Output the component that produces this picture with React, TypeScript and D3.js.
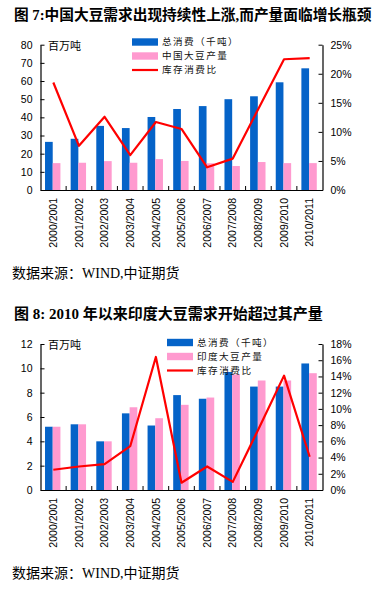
import { useEffect, useRef } from "react";
import * as d3 from "d3";

const seasons = [
  "2000/2001", "2001/2002", "2002/2003", "2003/2004", "2004/2005", "2005/2006",
  "2006/2007", "2007/2008", "2008/2009", "2009/2010", "2010/2011",
];

// 图7 China
const chinaTotal = [26.5, 28.2, 35.3, 34.1, 40.2, 44.6, 46.2, 50.0, 51.6, 59.3, 67.0];
const chinaProd = [14.8, 15.0, 15.9, 15.0, 17.0, 16.0, 14.7, 13.2, 15.4, 14.8, 14.8];
const chinaRatio = [18.5, 7.6, 12.6, 6.0, 11.7, 10.5, 3.9, 5.4, 14.0, 22.5, 22.7];
const chinaLeftTicks = [0, 10, 20, 30, 40, 50, 60, 70, 80];
const chinaRightTicks = [0, 5, 10, 15, 20, 25];

// 图8 India
const indiaTotal = [5.2, 5.4, 4.0, 6.3, 5.3, 7.8, 7.5, 9.7, 8.5, 8.5, 10.4];
const indiaProd = [5.2, 5.4, 4.0, 6.8, 5.9, 7.0, 7.6, 9.5, 9.0, 9.0, 9.6];
const indiaRatio = [2.5, 2.9, 3.2, 5.4, 16.4, 0.9, 2.9, 1.0, 7.5, 14.1, 4.1];
const indiaLeftTicks = [0, 2, 4, 6, 8, 10, 12];
const indiaRightTicks = [0, 2, 4, 6, 8, 10, 12, 14, 16, 18];

const BLUE = "#0563C8";
const PINK = "#FF9ACF";
const RED = "#FF0000";
const SANS = "'Liberation Sans', Arial, sans-serif";
const CJK = "'Noto Sans CJK SC', sans-serif";
const SERIF_CJK = "'Liberation Serif', 'Noto Sans CJK SC', serif";

type ChartCfg = {
  top: number; // y of axis top
  bottom: number; // y of zero
  total: number[];
  prod: number[];
  ratio: number[];
  leftTicks: number[];
  rightTicks: number[];
  names: string[];
  legendX: number;
  legendY: number;
};

function drawChart(svg: d3.Selection<SVGSVGElement, unknown, null, undefined>, c: ChartCfg) {
  const left = 40.5;
  const right = 322.5;
  const g = svg.append("g");

  const x = d3.scaleBand<string>().domain(seasons).range([left, right]).padding(0);
  const sub = d3.scaleBand<string>().domain(["t", "p"]).range([-7.7, 7.7]);
  const yl = d3.scaleLinear().domain([0, d3.max(c.leftTicks)!]).range([c.bottom, c.top]);
  const yr = d3.scaleLinear().domain([0, d3.max(c.rightTicks)!]).range([c.bottom, c.top]);

  // bars
  seasons.forEach((s, i) => {
    const cx = x(s)! + x.bandwidth() / 2 - 0.6;
    g.append("rect")
      .attr("x", cx + sub("t")!)
      .attr("y", yl(c.total[i]))
      .attr("width", sub.bandwidth())
      .attr("height", yl(0) - yl(c.total[i]))
      .attr("fill", BLUE);
    g.append("rect")
      .attr("x", cx + sub("p")!)
      .attr("y", yl(c.prod[i]))
      .attr("width", sub.bandwidth())
      .attr("height", yl(0) - yl(c.prod[i]))
      .attr("fill", PINK);
  });

  // ratio line
  const line = d3.line<number>()
    .x((_d, i) => x(seasons[i])! + x.bandwidth() / 2)
    .y(d => yr(d));
  g.append("path")
    .attr("d", line(c.ratio))
    .attr("fill", "none")
    .attr("stroke", RED)
    .attr("stroke-width", 2.2)
    .attr("stroke-linejoin", "round");

  // left axis
  const la = g.append("g").attr("transform", `translate(${left},0)`)
    .call(d3.axisLeft(yl).tickValues(c.leftTicks).tickSizeInner(-4).tickSizeOuter(0).tickPadding(8));
  // right axis
  const ra = g.append("g").attr("transform", `translate(${right},0)`)
    .call(d3.axisRight(yr).tickValues(c.rightTicks).tickFormat(d => `${d}%`)
      .tickSizeInner(-4).tickSizeOuter(0).tickPadding(8));
  // bottom axis
  const ba = g.append("g").attr("transform", `translate(0,${c.bottom})`)
    .call(d3.axisBottom(x).tickSize(0).tickPadding(0));
  [la, ra, ba].forEach(a => {
    a.select(".domain").attr("stroke", "#000").attr("stroke-width", 1.2);
    a.selectAll(".tick line").attr("stroke", "#000");
    a.selectAll("text").attr("font-family", SANS).attr("font-size", 10.5).attr("fill", "#000");
  });
  ba.selectAll(".tick text")
    .attr("transform", "rotate(-90)")
    .attr("text-anchor", "end")
    .attr("dy", "0.35em")
    .attr("x", -8)
    .attr("y", 0);
  // category boundary ticks
  const bounds = seasons.slice(1).map(s => x(s)!);
  g.selectAll(null).data(bounds).enter().append("line")
    .attr("x1", d => d).attr("x2", d => d)
    .attr("y1", c.bottom).attr("y2", c.bottom - 4)
    .attr("stroke", "#000");

  // unit
  g.append("text").attr("x", 48).attr("y", c.top + 5)
    .attr("font-family", CJK).attr("font-size", 11).attr("fill", "#000").text("百万吨");

  // legend
  const items = [
    { name: c.names[0], kind: "rect", color: BLUE },
    { name: c.names[1], kind: "rect", color: PINK },
    { name: c.names[2], kind: "line", color: RED },
  ];
  items.forEach((it, i) => {
    const yy = c.legendY + i * 14;
    if (it.kind === "rect") {
      g.append("rect").attr("x", c.legendX).attr("y", yy - 3.7).attr("width", 26).attr("height", 7.4)
        .attr("fill", it.color);
    } else {
      g.append("line").attr("x1", c.legendX).attr("x2", c.legendX + 26).attr("y1", yy).attr("y2", yy)
        .attr("stroke", it.color).attr("stroke-width", 2.2);
    }
    g.append("text").attr("x", c.legendX + 30).attr("y", yy).attr("dy", "0.36em")
      .attr("font-family", CJK).attr("font-size", 9.6).attr("fill", "#111")
      .attr("textLength", it.name.length * 10.8).attr("lengthAdjust", "spacing")
      .text(it.name);
  });
}

export default function App() {
  const ref = useRef<SVGSVGElement | null>(null);

  useEffect(() => {
    if (!ref.current) return;
    const svg = d3.select(ref.current);
    svg.selectAll("*").remove();

    svg.append("rect").attr("width", 391).attr("height", 590).attr("fill", "#fff");

    svg.append("text").attr("x", 14).attr("y", 20)
      .attr("font-family", SERIF_CJK).attr("font-weight", "bold").attr("font-size", 14.7)
      .text("图 7:中国大豆需求出现持续性上涨,而产量面临增长瓶颈");

    drawChart(svg, {
      top: 44.7, bottom: 190,
      total: chinaTotal, prod: chinaProd, ratio: chinaRatio,
      leftTicks: chinaLeftTicks, rightTicks: chinaRightTicks,
      names: ["总消费（千吨）", "中国大豆产量", "库存消费比"],
      legendX: 132, legendY: 42,
    });

    svg.append("text").attr("x", 12).attr("y", 278)
      .attr("font-family", SERIF_CJK).attr("font-size", 14)
      .text("数据来源：WIND,中证期货");

    svg.append("text").attr("x", 14).attr("y", 319)
      .attr("font-family", SERIF_CJK).attr("font-weight", "bold").attr("font-size", 15)
      .text("图 8: 2010 年以来印度大豆需求开始超过其产量");

    drawChart(svg, {
      top: 344, bottom: 490,
      total: indiaTotal, prod: indiaProd, ratio: indiaRatio,
      leftTicks: indiaLeftTicks, rightTicks: indiaRightTicks,
      names: ["总消费（千吨）", "印度大豆产量", "库存消费比"],
      legendX: 167, legendY: 342.5,
    });

    svg.append("text").attr("x", 12).attr("y", 578)
      .attr("font-family", SERIF_CJK).attr("font-size", 14)
      .text("数据来源：WIND,中证期货");
  }, []);

  return (
    <svg ref={ref} width={391} height={590}
      style={{ position: "absolute", left: 0, top: 0, display: "block" }} />
  );
}
